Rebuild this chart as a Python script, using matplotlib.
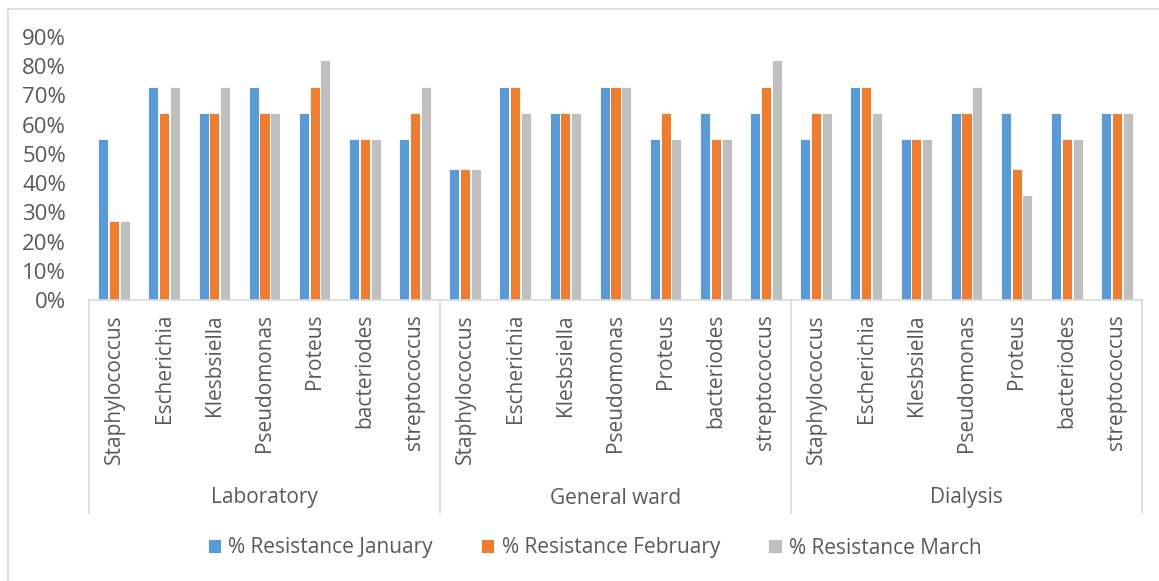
import numpy as np
import matplotlib.pyplot as plt
from matplotlib.lines import Line2D
from matplotlib.ticker import PercentFormatter

plt.rcParams["font.family"] = ["Open Sans", "DejaVu Sans"]

groups = ["Laboratory", "General ward", "Dialysis"]
organisms = ["Staphylococcus", "Escherichia", "Klesbsiella", "Pseudomonas",
             "Proteus", "bacteriodes", "streptococcus"]
series_names = ["% Resistance January", "% Resistance February", "% Resistance March"]

january = [55, 73, 64, 73, 64, 55, 55,
           45, 73, 64, 73, 55, 64, 64,
           55, 73, 55, 64, 64, 64, 64]
february = [27, 64, 64, 64, 73, 55, 64,
            45, 73, 64, 73, 64, 55, 73,
            64, 73, 55, 64, 45, 55, 64]
march = [27, 73, 73, 64, 82, 55, 73,
         45, 64, 64, 73, 55, 55, 82,
         64, 64, 55, 73, 36, 55, 64]

colors = ["#5B9BD5", "#ED7D31", "#BFBFBF"]
text_col = "#595959"
line_col = "#D9D9D9"

W, H = 1159, 581
fig = plt.figure(figsize=(W / 100, H / 100), dpi=100)
ax = fig.add_axes([89 / W, (H - 300) / H, (1142 - 89) / W, (300 - 37) / H])

n = len(groups) * len(organisms)
x = np.arange(n)
bw = 0.2
for i, vals in enumerate([january, february, march]):
    ax.bar(x + (i - 1) * bw * 1.08, vals, width=bw, color=colors[i],
           edgecolor="white", linewidth=0.6, label=series_names[i])

ax.set_xlim(-0.5, n - 0.5)
ax.set_ylim(0, 90)
ax.set_yticks(range(0, 91, 10))
ax.yaxis.set_major_formatter(PercentFormatter(decimals=0))
ax.tick_params(axis="y", length=0, pad=16.5, labelsize=16, labelcolor=text_col)

ax.set_xticks(x)
ax.set_xticklabels(organisms * len(groups), rotation=90, va="top")
ax.tick_params(axis="x", length=0, pad=10, labelsize=15, labelcolor=text_col)

for side in ["top", "right", "left"]:
    ax.spines[side].set_visible(False)
ax.spines["bottom"].set_color(line_col)
ax.spines["bottom"].set_linewidth(1.2)

# group separators and group labels below the category axis
trans = ax.get_xaxis_transform()
ax_h = 300 - 37
sep_bottom = -(513 - 300) / ax_h
k = len(organisms)
for g in range(len(groups) + 1):
    xs = g * k - 0.5
    ax.plot([xs, xs], [0, sep_bottom], transform=trans, color=line_col,
            lw=1.2, clip_on=False)
for g, name in enumerate(groups):
    ax.text(g * k + (k - 1) / 2, -(498 - 300) / ax_h, name, transform=trans,
            ha="center", va="center", fontsize=15, color=text_col)

leg = fig.legend(loc="center", bbox_to_anchor=(0.513, (H - 548) / H), ncol=3,
                 frameon=False, fontsize=15, handlelength=0.65, handleheight=0.65,
                 handletextpad=0.35, columnspacing=2.3)
for t in leg.get_texts():
    t.set_color(text_col)

# chart border (left and top edges visible)
fig.add_artist(Line2D([7.5 / W, 7.5 / W], [0, (H - 9) / H], transform=fig.transFigure,
                      color=line_col, lw=1.2))
fig.add_artist(Line2D([7.5 / W, 1], [(H - 9) / H, (H - 9) / H], transform=fig.transFigure,
                      color=line_col, lw=1.2))

fig.savefig("out.png", dpi=100)
